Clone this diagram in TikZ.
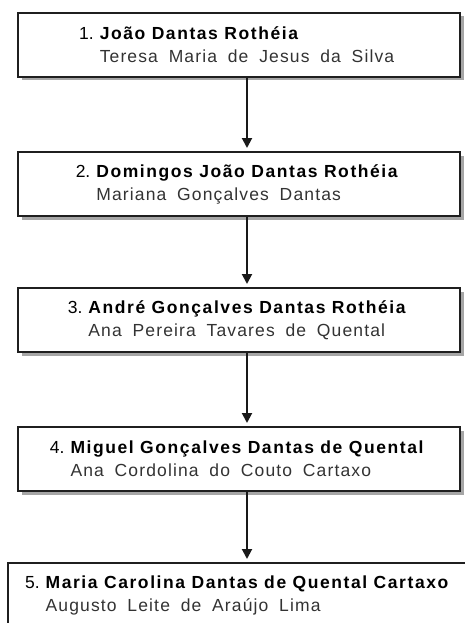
\documentclass[tikz,border=0pt]{standalone}
\usepackage{fontspec}
\setmainfont{Liberation Sans}
\newfontfamily\namefont[LetterSpace=9]{Liberation Sans}
\newfontfamily\spousefont[LetterSpace=6.5, WordSpace=1.8]{Liberation Sans}
\usepackage{tikz}
\usetikzlibrary{positioning}
\usetikzlibrary{arrows.meta}
\usetikzlibrary{shadows}

\newcommand{\casal}[3]{\llap{#1.\hspace{6pt}}{\namefont\bfseries #2}\\{\spousefont\color{black!80} #3}}

\begin{document}
\begin{tikzpicture}[ x = 1pt, y = 1pt
                   , node distance = 73pt
                   , font = \fontsize{17.5}{23}\selectfont
                   , >={Triangle[width=10pt, length=10pt]}
                   ]

  %%
  %% Styles
  %%
  \tikzset{ box/.style={ rectangle
                       , draw = black!88
                       , line width = 2pt
                       , fill = white
                       , inner sep = 0pt
                       , minimum width = 442pt
                       , minimum height = 64pt
                       , drop shadow = {shadow xshift=3.5pt, shadow yshift=-3.5pt, fill=black!35, opacity=1}
                       }
          , couple/.style={align=left, inner sep=0pt}
          , link/.style={->, line width=2pt, draw=black!90, shorten >=3pt}
          }

  \clip (0,0) rectangle (465,-623);

  %%
  %% Boxes
  %%
  \node (b1) [box] at (239,-45) {};
  \node (b2) [box, below = 73pt of b1] {};
  \node (b3) [box, below = 70pt of b2] {};
  \node (b4) [box, below = 73pt of b3] {};
  \node (b5) [box, below = 70pt of b4, xshift = 8pt, minimum width = 478pt] {};

  %%
  %% Names
  %%
  \node (c1) [couple, xshift = 8pt] at (b1)
        {\casal{1}{João Dantas Rothéia}{Teresa Maria de Jesus da Silva}};
  \node (c2) [couple, xshift = 8pt] at (b2)
        {\casal{2}{Domingos João Dantas Rothéia}{Mariana Gonçalves Dantas}};
  \node (c3) [couple, xshift = 8pt] at (b3)
        {\casal{3}{André Gonçalves Dantas Rothéia}{Ana Pereira Tavares de Quental}};
  \node (c4) [couple, xshift = 8pt] at (b4)
        {\casal{4}{Miguel Gonçalves Dantas de Quental}{Ana Cordolina do Couto Cartaxo}};
  \node (c5) [couple] at (b5)
        {\casal{5}{Maria Carolina Dantas de Quental Cartaxo}{Augusto Leite de Araújo Lima}};

  %%
  %% Descent (arrows)
  %%
  \draw[link] (c1 |- b1.south) -- (c1 |- b2.north);
  \draw[link] (c2 |- b2.south) -- (c2 |- b3.north);
  \draw[link] (c3 |- b3.south) -- (c3 |- b4.north);
  \draw[link] (c4 |- b4.south) -- (c4 |- b5.north);
\end{tikzpicture}
\end{document}
